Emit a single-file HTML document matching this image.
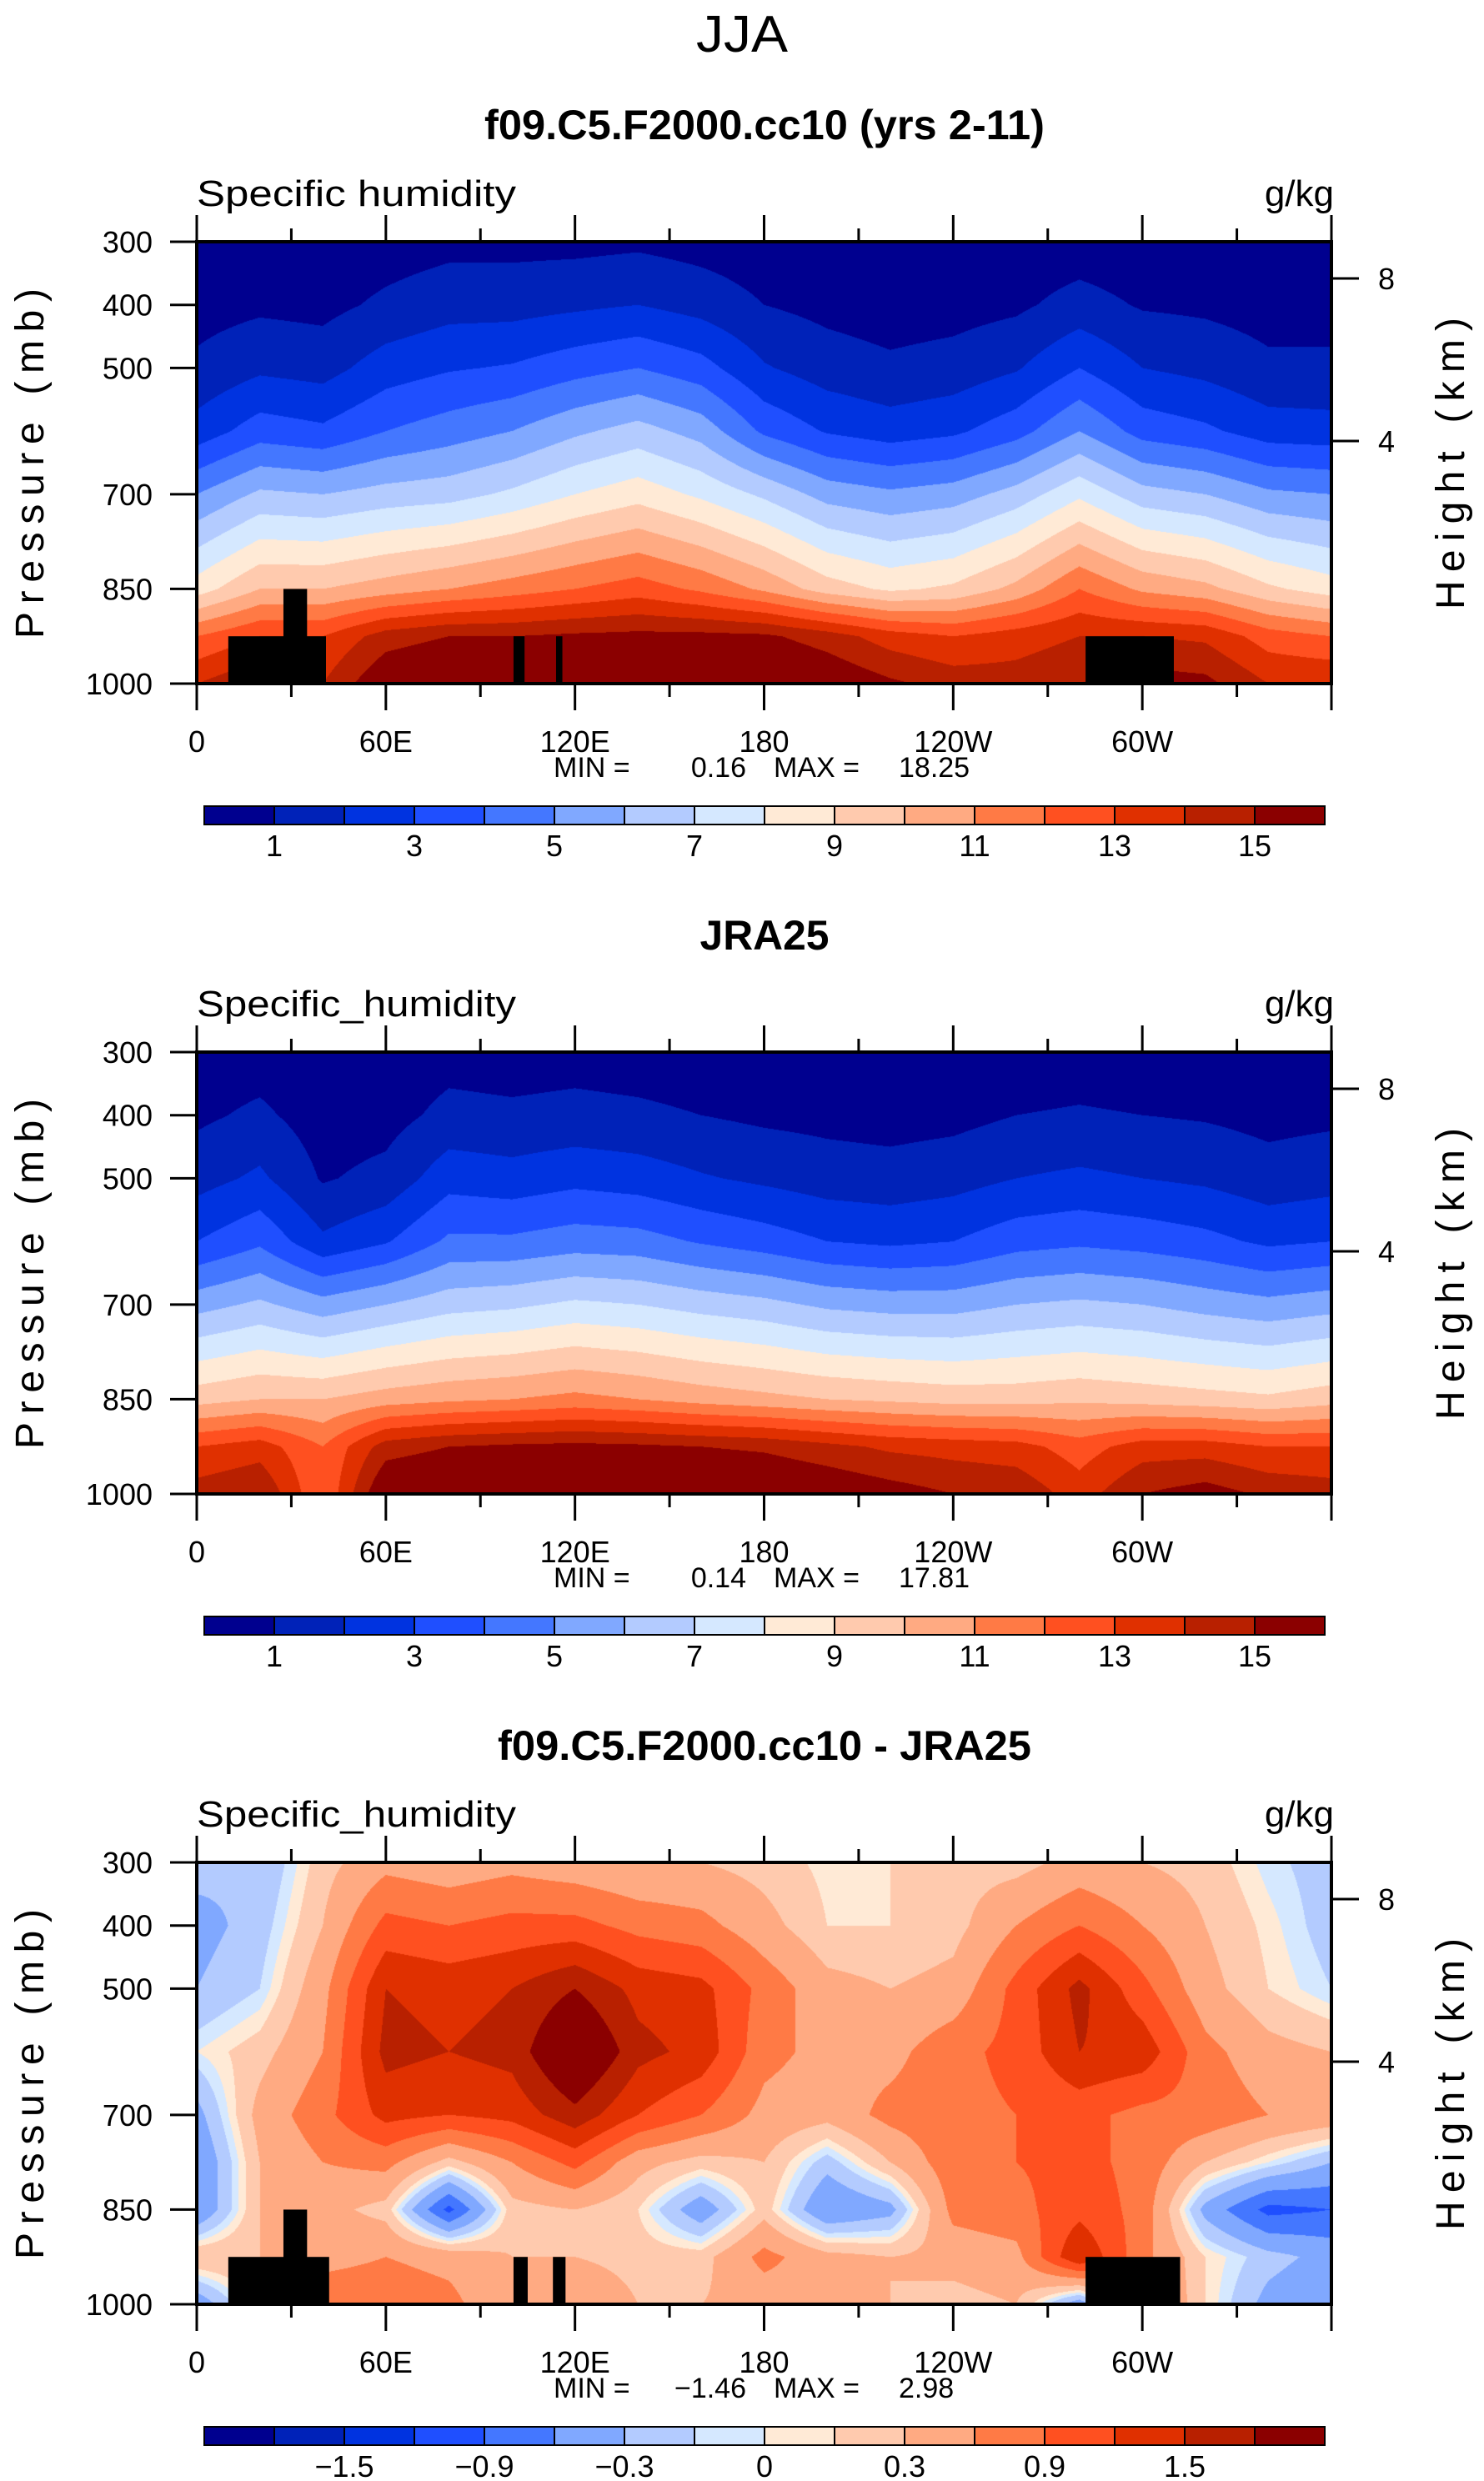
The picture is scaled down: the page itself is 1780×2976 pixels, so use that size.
<!DOCTYPE html>
<html><head><meta charset="utf-8"><title>JJA Specific humidity</title>
<style>
html,body{margin:0;padding:0;background:#fff;}
#wrap{position:relative;width:1780px;height:2976px;overflow:hidden;background:#fff;}
canvas{position:absolute;}
svg{position:absolute;left:0;top:0;}
text{font-family:"Liberation Sans",sans-serif;fill:#000;}
</style></head>
<body>
<div id="wrap">
<canvas id="c0"></canvas>
<canvas id="c1"></canvas>
<canvas id="c2"></canvas>
<svg id="ov" width="1780" height="2976">
<text x="890" y="62" font-size="62" text-anchor="middle" textLength="110" lengthAdjust="spacingAndGlyphs">JJA</text>
</svg>
</div>
<script>
// ---- data ----
const lons = [0,20,40,60,80,100,120,140,160,180,200,220,240,260,280,300,320,340,360];
const pressRows = [300,400,500,600,700,850,925,1000];
const diffRows = [300,400,500,600,700,775,850,925,1000];
const qLevels = [1,2,3,4,5,6,7,8,9,10,11,12,13,14,15];
const dLevels = [-1.8,-1.5,-1.2,-0.9,-0.6,-0.3,-0.1,0,0.1,0.3,0.6,0.9,1.2,1.5,1.8];
const qTickLabels = ["1","3","5","7","9","11","13","15"];
const dTickLabels = ["-1.5","-0.9","-0.3","0","0.3","0.9","1.5"];
const lonTickLabels = ["0","60E","120E","180","120W","60W"];
const presTicks = [300,400,500,700,850,1000];
const kmTicks = ["8","4"];
const modelQ = [
[0.3,0.6,1.2,2.4,5,8.5,12,14],
[0.3,0.8,1.8,3.5,6.2,10,13,15],
[0.3,0.7,1.6,3.2,6,10,13,14],
[0.5,1.2,2.5,4.0,6.4,10.5,14.5,16],
[0.7,1.6,2.9,4.5,6.6,11,15,16.5],
[0.7,1.6,3.1,5,7.2,11.5,15,16.5],
[0.7,1.8,3.6,5.8,8,12,15.2,16.5],
[0.8,2.0,4.0,6.4,8.6,12.5,15.3,16.8],
[0.6,1.6,3.4,5.6,7.8,11.8,15.3,16.8],
[0.4,1.0,2.1,3.8,6.8,10.8,15.2,16.6],
[0.3,0.7,1.5,2.9,5.6,9.5,14.5,16],
[0.2,0.5,1.2,2.5,5.2,8.8,13.5,15.2],
[0.2,0.6,1.4,2.8,5.5,9.2,13,14.6],
[0.3,0.8,1.9,3.6,6.4,10.3,13.5,14.5],
[0.4,1.4,3.0,5.0,7.8,12,14,15],
[0.3,0.9,2.0,3.6,6.4,10.8,14,15.5],
[0.3,0.8,1.7,3.2,6,10.3,13.8,15.3],
[0.2,0.6,1.2,2.5,5.2,9.2,12.5,14],
[0.3,0.6,1.2,2.4,5,8.5,12,14]];
const jraQ = [
[0.4,0.8,1.6,3.0,5.6,9.6,13,14.5],
[0.5,1.2,2.2,3.8,6.2,10,13.5,15],
[0.2,0.5,0.9,2.2,5.4,10,12,12],
[0.3,0.6,1.3,2.9,6.0,10.5,14.5,16.2],
[0.6,1.3,2.6,4.2,6.6,10.8,15,16.5],
[0.5,1.2,2.4,4.2,6.8,11,15.2,16.6],
[0.6,1.3,2.7,4.5,7.2,11.3,15.3,16.7],
[0.5,1.2,2.5,4.4,7,11,15.2,16.8],
[0.4,1.0,2.1,3.9,6.6,10.6,15,16.6],
[0.3,0.8,1.8,3.5,6.3,10.3,14.8,16.4],
[0.3,0.7,1.5,3.0,5.8,10,14.3,16],
[0.3,0.6,1.4,2.8,5.6,9.8,13.8,15.5],
[0.3,0.7,1.6,3.0,5.6,9.6,13.6,15],
[0.4,1.0,2.0,3.6,6,9.6,13.4,14.8],
[0.5,1.1,2.2,3.8,6.2,9.8,12.5,13.5],
[0.4,1.0,2.0,3.6,6,9.6,13.5,15],
[0.4,0.9,1.8,3.3,5.6,9.4,13.5,15.5],
[0.3,0.7,1.4,2.8,5.3,9.2,13,14.8],
[0.4,0.8,1.6,3.0,5.6,9.6,13,14.5]];
const diffQ = [
[-0.2,-0.4,-0.3,0,-0.4,-0.6,-0.6,0.3,-0.5],
[-0.3,-0.2,-0.1,0.2,0.4,0.3,0.3,0.3,0.2],
[0.2,0.3,0.5,0.6,0.8,0.6,0.4,0.5,0.8],
[0.5,1.0,1.5,1.6,1.3,0.7,0.2,0.6,0.8],
[0.4,0.9,1.4,1.5,1.2,0.2,-1.0,0.5,0.7],
[0.5,1.0,1.5,1.6,1.3,0.6,0.2,0.3,0.3],
[0.4,1.0,1.8,2.3,1.7,1.0,0.3,0.3,0.6],
[0.3,0.8,1.4,1.6,1.2,0.4,0.1,0.2,0.3],
[0.3,0.7,1.3,1.4,0.9,0.2,-0.5,0.2,0.3],
[0.2,0.4,0.8,0.7,0.5,0.3,0.2,0.7,0.4],
[0.05,0.1,0.4,0.5,0.4,-0.2,-0.6,0.4,0.5],
[0.1,0.1,0.3,0.5,0.7,0.3,-0.4,0.3,0.3],
[0.2,0.2,0.4,0.8,0.8,0.8,0.7,0.4,0.2],
[0.2,0.6,1.0,1.0,0.9,0.9,0.8,0.5,0.3],
[0.4,0.9,1.6,1.5,1.0,1.0,1.1,1.5,-0.5],
[0.3,0.6,1.0,1.4,0.8,0.8,0.8,0.7,0.8],
[0.2,0.3,0.4,0.7,0.8,0.3,-0.4,0.1,0.1],
[-0.05,0.05,0.1,0.4,0.6,0.0,-1.0,-0.2,-0.4],
[-0.2,-0.2,-0.1,0.3,0.5,-0.3,-0.9,-0.4,-0.6]];
// land mask blocks: [lonStart, lonEnd, topPressure]
const maskModel = [[10,41,925],[27.5,35,850],[100.5,104,925],[114,116,925],[282,310,925]];
const maskDiff = [[10,42,925],[27.5,35,850],[100.5,105,925],[113,117,925],[282,312,925]];
const palette = ["#00008f","#0022b8","#0033e0","#1f4fff","#4477ff","#80a8ff","#b3cbff","#d5e8ff","#ffead6","#ffcaae","#ffaa82","#ff7a45","#ff5020","#e03000","#b82000","#8b0000"];

// ---- layout ----
const X0=236, W=1361, H=530;
const tops=[290,1262,2234];
function xOf(lon){return X0+lon/360*W;}
function yOf(top,p){return top+(p-300)/700*H;}
function interp(grid,rows,lon,p){
  let n=lons.length-1, i=0;
  while(i<n-1 && lon>lons[i+1]) i++;
  const fx=Math.min(1,Math.max(0,(lon-lons[i])/(lons[i+1]-lons[i])));
  let j=0; while(j<rows.length-2 && p>rows[j+1]) j++;
  const fy=Math.min(1,Math.max(0,(p-rows[j])/(rows[j+1]-rows[j])));
  const a=grid[i][j]*(1-fx)+grid[i+1][j]*fx;
  const b=grid[i][j+1]*(1-fx)+grid[i+1][j+1]*fx;
  return a*(1-fy)+b*fy;
}
function rgb(h){return [parseInt(h.slice(1,3),16),parseInt(h.slice(3,5),16),parseInt(h.slice(5,7),16)];}
const pal=palette.map(rgb);
function drawField(id,top,grid,rows,levels){
  const c=document.getElementById(id);
  c.width=W;c.height=H;c.style.left=X0+'px';c.style.top=top+'px';
  const ctx=c.getContext('2d');const img=ctx.createImageData(W,H);
  for(let y=0;y<H;y++){const p=300+(y+0.5)/H*700;
    for(let x=0;x<W;x++){const lon=(x+0.5)/W*360;
      const v=interp(grid,rows,lon,p);let k=0;while(k<levels.length&&v>=levels[k])k++;
      const col=pal[k];const o=(y*W+x)*4;img.data[o]=col[0];img.data[o+1]=col[1];img.data[o+2]=col[2];img.data[o+3]=255;}}
  ctx.putImageData(img,0,0);
}
drawField('c0',tops[0],modelQ,pressRows,qLevels);
drawField('c1',tops[1],jraQ,pressRows,qLevels);
drawField('c2',tops[2],diffQ,diffRows,dLevels);

const NS='http://www.w3.org/2000/svg';
const ov=document.getElementById('ov');
function mk(tag,attrs,txt){const e=document.createElementNS(NS,tag);for(const k in attrs)e.setAttribute(k,attrs[k]);if(txt!==undefined)e.textContent=txt;ov.appendChild(e);return e;}

const titles=["f09.C5.F2000.cc10 (yrs 2-11)","JRA25","f09.C5.F2000.cc10 - JRA25"];
const titleLen=[672,155,640];
const varNames=["Specific humidity","Specific_humidity","Specific_humidity"];
const minmax=[["0.16","18.25"],["0.14","17.81"],["\u22121.46","2.98"]];
const masks=[maskModel,null,maskDiff];

for(let k=0;k<3;k++){
  const T=tops[k],B=T+H;
  let e;
  e=mk('text',{x:917,y:T-123,'font-size':50,'font-weight':'bold','text-anchor':'middle',textLength:titleLen[k],lengthAdjust:'spacingAndGlyphs'},titles[k]);
  
  
  e=mk('text',{x:236,y:T-43,'font-size':44,textLength:383,lengthAdjust:'spacingAndGlyphs'},varNames[k]);
  
  
  e=mk('text',{x:1600,y:T-43,'font-size':44,'text-anchor':'end'},'g/kg');
  
  
  if(masks[k]){for(const m of masks[k]){
    e=mk('rect',{x:xOf(m[0]),y:yOf(T,m[2]),width:xOf(m[1])-xOf(m[0]),height:B-yOf(T,m[2]),fill:'#000'});
    
    
  }}
  e=mk('rect',{x:X0,y:T,width:W,height:H,fill:'none',stroke:'#000','stroke-width':4});
  
  
  for(let lon=0;lon<=360;lon+=30){
    const major=lon%60===0,len=major?32:16,x=xOf(lon);
    e=mk('line',{x1:x,x2:x,y1:T,y2:T-len,stroke:'#000','stroke-width':3});
    
    
    e=mk('line',{x1:x,x2:x,y1:B,y2:B+len,stroke:'#000','stroke-width':3});
    
    
    if(major&&lon<360){
      e=mk('text',{x:x,y:B+82,'font-size':36,'text-anchor':'middle'},lonTickLabels[lon/60]);
      
      
    }
  }
  for(const p of presTicks){const y=yOf(T,p);
    e=mk('line',{x1:X0-32,x2:X0,y1:y,y2:y,stroke:'#000','stroke-width':3});
    
    
    e=mk('text',{x:183,y:y+13,'font-size':36,'text-anchor':'end'},String(p));
    
    
  }
  const kmY=[T+44,T+239];
  for(let i=0;i<2;i++){
    e=mk('line',{x1:X0+W,x2:X0+W+33,y1:kmY[i],y2:kmY[i],stroke:'#000','stroke-width':3});
    
    
    e=mk('text',{x:1663,y:kmY[i]+13,'font-size':36,'text-anchor':'middle'},kmTicks[i]);
    
    
  }
  const cy=T+H/2+1;
  e=mk('text',{x:0,y:0,'font-size':48,'text-anchor':'middle',transform:`translate(52,${cy}) rotate(-90)`,textLength:420,lengthAdjust:'spacing'},'Pressure (mb)');
  
  
  e=mk('text',{x:0,y:0,'font-size':48,'text-anchor':'middle',transform:`translate(1756,${cy}) rotate(-90)`,textLength:350,lengthAdjust:'spacing'},'Height (km)');
  
  
  e=mk('text',{x:664,y:B+112,'font-size':34},'MIN =');
  
  
  e=mk('text',{x:895,y:B+112,'font-size':34,'text-anchor':'end'},minmax[k][0]);
  
  
  e=mk('text',{x:928,y:B+112,'font-size':34},'MAX =');
  
  
  e=mk('text',{x:1078,y:B+112,'font-size':34},minmax[k][1]);
  
  
  // colorbar
  const cbX=245,cbW=84,cbY=B+147,cbH=22;
  for(let i=0;i<16;i++){
    e=mk('rect',{x:cbX+i*cbW,y:cbY,width:cbW,height:cbH,fill:palette[i],stroke:'#000','stroke-width':2});
    
    
  }
  const labs=k===2?dTickLabels:qTickLabels;
  for(let i=0;i<labs.length;i++){
    const b=k===2?2+2*i:1+2*i;
    e=mk('text',{x:cbX+b*cbW,y:cbY+60,'font-size':36,'text-anchor':'middle'},labs[i].replace('-','\u2212'));
    
    
  }
}
</script>
</body></html>
